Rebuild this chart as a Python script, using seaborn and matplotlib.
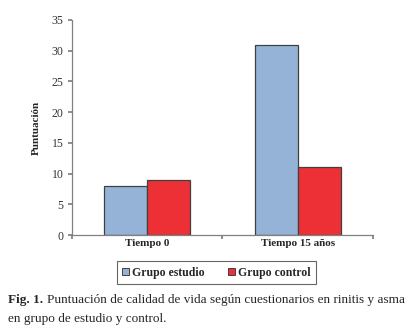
import matplotlib
matplotlib.use("Agg")
import matplotlib.pyplot as plt
import seaborn as sns
import pandas as pd
from matplotlib.patches import Patch

categories = ["Tiempo 0", "Tiempo 15 años"]
grupo_estudio = [8, 31]
grupo_control = [9, 11]
series_names = ["Grupo estudio", "Grupo control"]
yticks = [0, 5, 10, 15, 20, 25, 30, 35]

df = pd.DataFrame({
    "cat": categories * 2,
    "grupo": [series_names[0]] * 2 + [series_names[1]] * 2,
    "val": grupo_estudio + grupo_control,
})

sns.set_theme(style="white")
plt.rcParams["font.family"] = ["Liberation Serif", "DejaVu Serif"]

fig = plt.figure(figsize=(4.11, 3.32), dpi=100)
ax = fig.add_axes([0.175, 0.292, 0.7325, 0.648])
palette = {"Grupo estudio": "#95B3D7", "Grupo control": "#EC3035"}
sns.barplot(data=df, x="cat", y="val", hue="grupo", palette=palette,
            width=0.57, edgecolor="#404040", linewidth=0.9, saturation=1,
            ax=ax, legend=False)
ax.set_xlim(-0.5, 1.5)
ax.set_ylim(0, 35)
ax.set_yticks(yticks)
ax.set_yticklabels([str(t) for t in yticks], fontsize=8.5, color="#333333")
ax.set_xticks([-0.5, 0.5, 1.5], minor=False)
ax.set_xticklabels([])
ax.set_xticks([0, 1], minor=True)
ax.set_xticklabels(categories, minor=True, fontsize=8, fontweight="bold")
ax.tick_params(axis="x", which="minor", length=0, pad=3)
ax.tick_params(axis="x", which="major", length=3, color="#808080", direction="out", bottom=True)
ax.tick_params(axis="y", length=3, color="#808080", direction="out", left=True, pad=3)
for s in ["top", "right"]:
    ax.spines[s].set_visible(False)
for s in ["left", "bottom"]:
    ax.spines[s].set_color("#808080")
    ax.spines[s].set_linewidth(0.9)
ax.set_xlabel("")
ax.set_ylabel("Puntuación", fontsize=8, fontweight="bold", labelpad=8)

handles = [Patch(facecolor=palette[n], edgecolor="#404040", linewidth=0.7) for n in series_names]
leg = fig.legend(handles, series_names, loc="center", bbox_to_anchor=(0.527, 0.179),
                 ncol=2, frameon=True, fancybox=False, prop={"size": 8.5, "weight": "bold"},
                 handlelength=0.6, handleheight=0.6, handletextpad=0.25, columnspacing=2.0,
                 borderpad=0.45, borderaxespad=0, edgecolor="#404040")
leg.get_frame().set_linewidth(0.8)

fs = 9.5
t1 = fig.text(0.02, 0.095, "Fig. 1.", fontsize=fs, fontweight="bold", ha="left", va="center")
fig.canvas.draw()
bb = t1.get_window_extent(renderer=fig.canvas.get_renderer())
x_end = bb.x1 / fig.bbox.width
fig.text(x_end + 0.008, 0.095, "Puntuación de calidad de vida según cuestionarios en rinitis y asma",
         fontsize=fs, ha="left", va="center")
fig.text(0.02, 0.04, "en grupo de estudio y control.", fontsize=fs, ha="left", va="center")

fig.savefig("out.png", dpi=100, facecolor="white")
